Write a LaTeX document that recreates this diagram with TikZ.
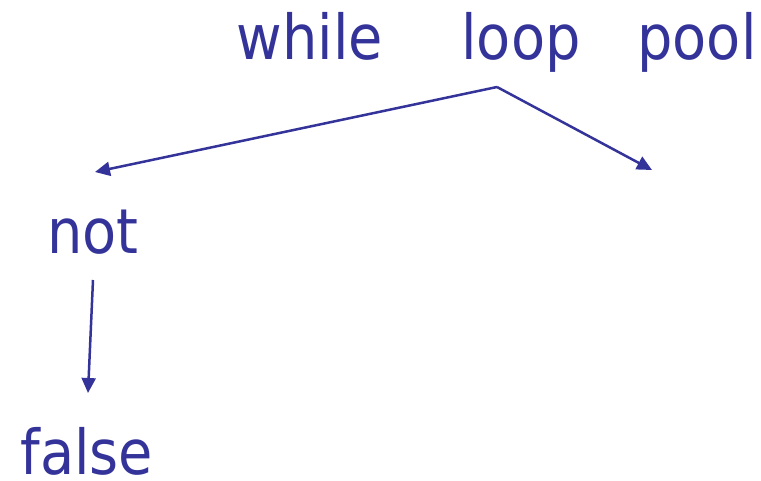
\documentclass[tikz,border=0pt]{standalone}
\usepackage{fontspec}
\setmainfont{DejaVu Sans Condensed}
\usetikzlibrary{positioning, arrows.meta}
\definecolor{kwblue}{RGB}{51,51,153}
\tikzset{
  word/.style={text=kwblue, font=\fontsize{62}{66}\selectfont, inner sep=0pt, anchor=base},
  link/.style={draw=kwblue, line width=2.5pt, -{Triangle[length=15pt,width=14pt]}}
}

\begin{document}
\begin{tikzpicture}[x=1pt,y=-1pt]
\useasboundingbox (0,0) rectangle (761,481);
\node[word] (while) at (310,60) {while};
\node[word] (loop) at (521,60) {loop};
\node[word] (pool) at (697,60) {pool};
\node[word] (not) at (93,254) {not};
\node[word] (false) at (87,474) {false};

\coordinate (fork) at (497,87);
\coordinate (right) at (652,170);
\draw[link] (fork) -- ([shift={(2,-82)}]not.base);
\draw[link] (fork) -- (right);
\draw[link] ([shift={(0,26)}]not.base) -- ([shift={(1,-81)}]false.base);
\end{tikzpicture}
\end{document}
